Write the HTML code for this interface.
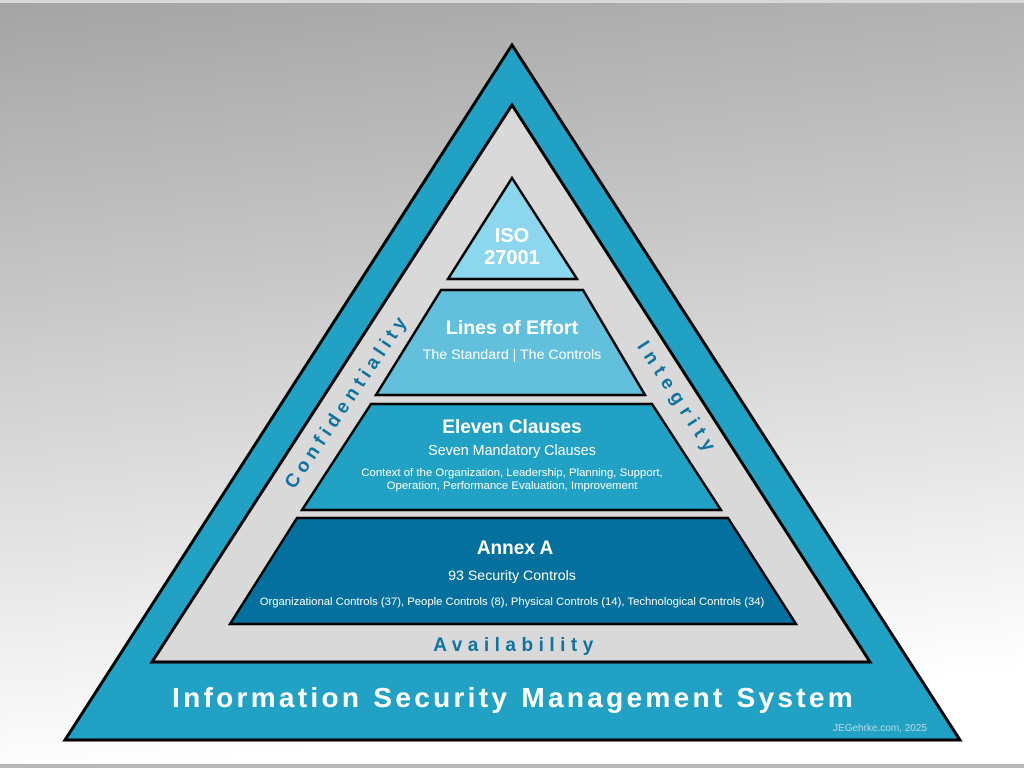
<!DOCTYPE html>
<html><head><meta charset="utf-8"><style>
html,body{margin:0;padding:0;width:1024px;height:768px;overflow:hidden}
svg{display:block}
text{font-family:"Liberation Sans",sans-serif;fill:#fff;text-anchor:middle}
</style></head><body>
<svg width="1024" height="768" viewBox="0 0 1024 768">
<defs><linearGradient id="bg" x1="0" y1="0" x2="0.15" y2="1">
<stop offset="0" stop-color="#a4a4a4"/><stop offset="1" stop-color="#ffffff"/></linearGradient></defs>
<rect width="1024" height="768" fill="url(#bg)"/>
<rect x="0" y="0" width="1024" height="3" fill="#d8d8d8"/>
<rect x="0" y="764" width="1024" height="4" fill="#b8b8b8"/>
<polygon points="512,45 960,740 65,740" fill="#21a1c4" stroke="#000" stroke-width="3" stroke-linejoin="miter"/>
<polygon points="512,105 870,662 152,662" fill="#d9d9d9" stroke="#000" stroke-width="3"/>
<polygon points="512,178 577,279 448,279" fill="#8cd6ee" stroke="#000" stroke-width="2.5"/>
<polygon points="441,290 583,290 645,395 376,395" fill="#62c0dc" stroke="#000" stroke-width="2.5"/>
<polygon points="371,404 652,404 721,510 302,510" fill="#21a1c4" stroke="#000" stroke-width="2.5"/>
<polygon points="297,518 728,518 796,624 230,624" fill="#04709e" stroke="#000" stroke-width="2.5"/>
<text x="512" y="242" font-size="20" font-weight="bold">ISO</text>
<text x="512" y="264" font-size="20" font-weight="bold">27001</text>
<text x="512" y="334" font-size="19.5" font-weight="bold">Lines of Effort</text>
<text x="512" y="359" font-size="14.2">The Standard | The Controls</text>
<text x="512" y="433" font-size="19" font-weight="bold">Eleven Clauses</text>
<text x="512" y="455" font-size="14.3">Seven Mandatory Clauses</text>
<text x="512" y="476" font-size="11.4">Context of the Organization, Leadership, Planning, Support,</text>
<text x="512" y="489" font-size="11.4">Operation, Performance Evaluation, Improvement</text>
<text x="515" y="554" font-size="19" font-weight="bold">Annex A</text>
<text x="512" y="580" font-size="14.2">93 Security Controls</text>
<text x="512" y="605" font-size="11.3">Organizational Controls (37), People Controls (8), Physical Controls (14), Technological Controls (34)</text>
<text x="516" y="651" font-size="19" font-weight="bold" letter-spacing="5.5" style="fill:#0d73a0">Availability</text>
<text transform="translate(352,404) rotate(-56)" font-size="19" font-weight="bold" letter-spacing="5" style="fill:#0d73a0">Confidentiality</text>
<text transform="translate(673,402) rotate(57)" font-size="19" font-weight="bold" letter-spacing="6.5" style="fill:#0d73a0">Integrity</text>
<text x="514" y="707" font-size="28" font-weight="bold" letter-spacing="3.3">Information Security Management System</text>
<text x="880" y="731" font-size="10" style="fill:#b8dbe8">JEGehrke.com, 2025</text>
</svg>
</body></html>
